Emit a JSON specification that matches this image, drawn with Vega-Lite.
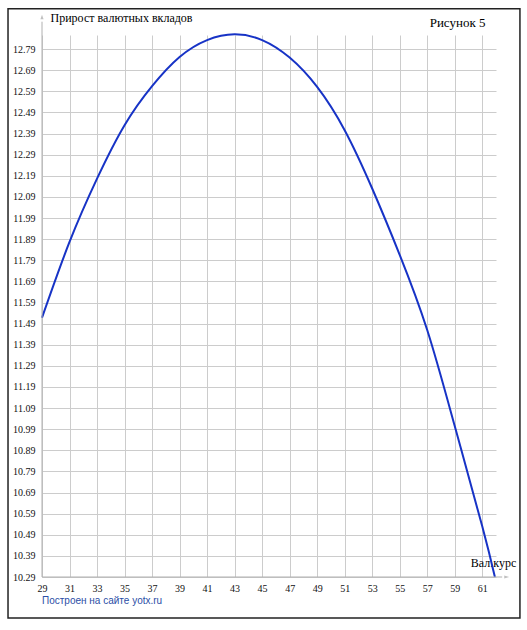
{
  "$schema": "https://vega.github.io/schema/vega-lite/v6.json",
  "width": 454,
  "height": 542,
  "autosize": {"type": "none"},
  "padding": {"left": 42, "top": 35, "right": 31, "bottom": 53},
  "background": "white",
  "config": {"view": {"stroke": null}, "font": "Liberation Serif"},
  "title": {
    "text": "Построен на сайте yotx.ru",
    "orient": "bottom",
    "anchor": "start",
    "frame": "group",
    "font": "Liberation Sans",
    "fontSize": 10,
    "fontWeight": "normal",
    "color": "#2b4ea6",
    "offset": -23
  },
  "datasets": {
    "curve": [
      {"kurs": 29, "prirost": 11.518},
      {"kurs": 31, "prirost": 11.877},
      {"kurs": 33, "prirost": 12.177},
      {"kurs": 35, "prirost": 12.43},
      {"kurs": 37, "prirost": 12.615},
      {"kurs": 39, "prirost": 12.753},
      {"kurs": 41, "prirost": 12.833},
      {"kurs": 43, "prirost": 12.86},
      {"kurs": 45, "prirost": 12.833},
      {"kurs": 47, "prirost": 12.75},
      {"kurs": 49, "prirost": 12.611},
      {"kurs": 51, "prirost": 12.406},
      {"kurs": 53, "prirost": 12.13},
      {"kurs": 55, "prirost": 11.816},
      {"kurs": 57, "prirost": 11.46},
      {"kurs": 59, "prirost": 11.005},
      {"kurs": 61, "prirost": 10.53},
      {"kurs": 61.92, "prirost": 10.29}
    ],
    "one": [{}]
  },
  "resolve": {"axis": {"y": "independent"}},
  "layer": [
    {
      "data": {"name": "one"},
      "mark": {"type": "rect", "filled": false, "stroke": "#222222", "strokeWidth": 1.5},
      "encoding": {
        "x": {"datum": 26.53, "type": "quantitative", "scale": {"domain": [29, 62], "nice": false, "zero": false}},
        "x2": {"datum": 63.74},
        "y": {"datum": 10.096, "type": "quantitative", "scale": {"domain": [10.29, 12.857], "nice": false, "zero": false}, "axis": null},
        "y2": {"datum": 12.981}
      }
    },
    {
      "data": {"name": "curve"},
      "mark": {"type": "line", "color": "#1733c6", "strokeWidth": 2, "interpolate": "natural"},
      "encoding": {
        "x": {
          "field": "kurs",
          "type": "quantitative",
          "scale": {"domain": [29, 62], "nice": false, "zero": false},
          "axis": {
            "values": [29, 31, 33, 35, 37, 39, 41, 43, 45, 47, 49, 51, 53, 55, 57, 59, 61],
            "tickCount": 60,
            "format": "d",
            "grid": true,
            "gridColor": "#cccccc",
            "gridWidth": 1,
            "domain": false,
            "ticks": false,
            "labelOverlap": false,
            "labelFlush": false,
            "labelFont": "Liberation Serif",
            "labelFontSize": 10,
            "labelColor": "#111111",
            "labelPadding": 6,
            "title": "Вал.курс",
            "titleFont": "Liberation Serif",
            "titleFontSize": 12,
            "titleFontWeight": "normal",
            "titleColor": "#000000",
            "titleAngle": 0,
            "titleAlign": "center",
            "titleBaseline": "middle",
            "titleX": 451,
            "titleY": -15
          }
        },
        "y": {
          "field": "prirost",
          "type": "quantitative",
          "scale": {"domain": [10.29, 12.857], "nice": false, "zero": false},
          "axis": {
            "values": [10.29, 10.39, 10.49, 10.59, 10.69, 10.79, 10.89, 10.99, 11.09, 11.19, 11.29, 11.39, 11.49, 11.59, 11.69, 11.79, 11.89, 11.99, 12.09, 12.19, 12.29, 12.39, 12.49, 12.59, 12.69, 12.79],
            "tickCount": 60,
            "format": ".2f",
            "grid": true,
            "gridColor": "#cccccc",
            "gridWidth": 1,
            "domain": false,
            "ticks": false,
            "labelOverlap": false,
            "labelFlush": false,
            "labelFont": "Liberation Serif",
            "labelFontSize": 10,
            "labelColor": "#111111",
            "labelPadding": 7,
            "title": "Прирост валютных вкладов",
            "titleFont": "Liberation Serif",
            "titleFontSize": 12,
            "titleFontWeight": "normal",
            "titleColor": "#000000",
            "titleAngle": 0,
            "titleAlign": "left",
            "titleBaseline": "middle",
            "titleX": 8,
            "titleY": -18
          }
        }
      }
    },
    {
      "data": {"name": "one"},
      "mark": {"type": "rule", "color": "#b0b0b0", "strokeWidth": 1},
      "encoding": {
        "x": {"datum": 29, "type": "quantitative"},
        "y": {"datum": 10.29, "type": "quantitative", "axis": null},
        "y2": {"datum": 12.92}
      }
    },
    {
      "data": {"name": "one"},
      "mark": {"type": "rule", "color": "#b0b0b0", "strokeWidth": 1},
      "encoding": {
        "x": {"datum": 29, "type": "quantitative"},
        "x2": {"datum": 62.45},
        "y": {"datum": 10.29, "type": "quantitative", "axis": null}
      }
    },
    {
      "data": {"name": "one"},
      "mark": {"type": "point", "shape": "M-0.35,0.5L0,-0.5L0.35,0.5Z", "filled": true, "color": "#c0c0c0", "size": 81, "opacity": 1},
      "encoding": {
        "x": {"datum": 29, "type": "quantitative"},
        "y": {"datum": 12.942, "type": "quantitative", "axis": null}
      }
    },
    {
      "data": {"name": "one"},
      "mark": {"type": "point", "shape": "M-0.5,-0.3L0.5,0L-0.5,0.3Z", "filled": true, "color": "#c0c0c0", "size": 100, "opacity": 1},
      "encoding": {
        "x": {"datum": 62.78, "type": "quantitative"},
        "y": {
          "datum": 10.29,
          "type": "quantitative",
          "axis": {
            "orient": "right",
            "labels": false,
            "ticks": false,
            "domain": false,
            "grid": false,
            "title": "Рисунок 5",
            "titleFont": "Liberation Serif",
            "titleFontSize": 13,
            "titleFontWeight": "normal",
            "titleColor": "#000000",
            "titleAngle": 0,
            "titleAlign": "right",
            "titleBaseline": "middle",
            "titleX": -11,
            "titleY": -13
          }
        }
      }
    }
  ]
}
